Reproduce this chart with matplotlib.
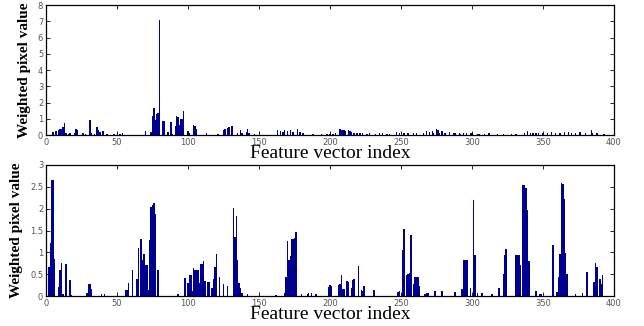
import matplotlib
matplotlib.use("Agg")
import matplotlib.pyplot as plt
import numpy as np

# ---- Top panel data (feature index -> weighted pixel value) ----
top_idx = [5, 7, 9, 10, 11, 12, 13, 14, 16, 17, 20, 21, 22, 26, 28, 31, 32, 34, 36, 37, 38, 40,
           43, 48, 52, 54, 70, 74, 75, 76, 77, 78, 79, 80, 82, 83, 86, 88, 89, 91, 92, 93, 94,
           95, 96, 97, 100, 101, 104, 105, 106, 113, 121, 125, 126, 128, 129, 131, 135, 137,
           138, 141, 142, 143, 147, 163, 165, 167, 168, 170, 172, 174, 177, 179, 181, 188, 194,
           198, 200, 202, 204, 207, 208, 209, 210, 211, 213, 214, 215, 217, 219, 221, 223, 226,
           228, 232, 235, 237, 240, 242, 247, 249, 252, 255, 259, 261, 266, 268, 270, 272, 273,
           275, 276, 277, 279, 281, 284, 287, 288, 291, 292, 294, 296, 299, 300, 304, 305, 309,
           312, 318, 322, 328, 331, 337, 339, 341, 343, 345, 347, 350, 353, 356, 359, 362, 365,
           368, 370, 373, 376, 380, 384, 385, 388, 393]
top_val = [0.19, 0.25, 0.33, 0.39, 0.39, 0.5, 0.72, 0.14, 0.08, 0.12, 0.14, 0.35, 0.29, 0.1, 0.06,
           0.9, 0.14, 0.06, 0.51, 0.3, 0.18, 0.22, 0.06, 0.05, 0.08, 0.14, 0.22, 0.18, 1.2, 1.66,
           0.9, 1.3, 1.38, 7.1, 0.84, 0.86, 0.18, 0.8, 0.08, 0.55, 1.15, 1.13, 0.6, 1.0, 0.97,
           1.46, 0.22, 0.12, 0.6, 0.55, 0.35, 0.14, 0.08, 0.3, 0.39, 0.43, 0.5, 0.53, 0.14, 0.33,
           0.1, 0.18, 0.35, 0.12, 0.05, 0.3, 0.25, 0.18, 0.33, 0.22, 0.33, 0.18, 0.35, 0.18, 0.1,
           0.06, 0.08, 0.05, 0.06, 0.06, 0.1, 0.35, 0.3, 0.29, 0.3, 0.25, 0.3, 0.22, 0.18, 0.14,
           0.1, 0.14, 0.1, 0.08, 0.1, 0.06, 0.1, 0.1, 0.08, 0.08, 0.18, 0.1, 0.1, 0.14, 0.1, 0.14,
           0.14, 0.27, 0.18, 0.22, 0.14, 0.39, 0.3, 0.14, 0.27, 0.1, 0.18, 0.1, 0.1, 0.12, 0.08,
           0.12, 0.1, 0.1, 0.1, 0.08, 0.08, 0.08, 0.1, 0.08, 0.06, 0.06, 0.06, 0.12, 0.22, 0.14,
           0.12, 0.14, 0.14, 0.12, 0.14, 0.18, 0.14, 0.14, 0.18, 0.18, 0.12, 0.14, 0.18, 0.14,
           0.3, 0.14, 0.1, 0.06]

# ---- Bottom panel data ----
bot_idx = [2, 3, 4, 5, 6, 9, 10, 11, 12, 14, 17, 18, 29, 30, 31, 32, 39, 41, 56, 57, 58, 61, 64,
           65, 67, 68, 69, 70, 71, 72, 73, 74, 75, 76, 77, 79, 93, 98, 100, 101, 102, 103, 104,
           105, 106, 107, 108, 109, 110, 111, 112, 114, 115, 117, 118, 119, 120, 122, 125, 128,
           132, 133, 134, 135, 136, 137, 138, 142, 162, 168, 169, 170, 171, 172, 173, 174, 175,
           176, 180, 184, 185, 187, 190, 199, 200, 201, 206, 207, 208, 209, 210, 212, 213, 215,
           216, 217, 220, 222, 223, 224, 231, 248, 249, 251, 252, 254, 255, 256, 257, 259, 260,
           261, 262, 263, 267, 268, 269, 274, 279, 288, 293, 294, 295, 296, 297, 299, 301, 302,
           304, 307, 314, 319, 322, 323, 324, 331, 332, 333, 334, 336, 337, 338, 339, 340, 345,
           348, 349, 357, 360, 361, 362, 363, 364, 365, 366, 367, 373, 378, 381, 386, 387, 388,
           390, 391, 392]
bot_val = [0.66, 1.22, 2.65, 2.65, 0.84, 0.2, 0.59, 0.76, 0.05, 0.73, 0.36, 0.03, 0.08, 0.28, 0.28,
           0.17, 0.05, 0.05, 0.13, 0.13, 0.3, 0.59, 0.4, 1.09, 1.31, 0.83, 0.96, 0.7, 0.7, 0.13,
           1.29, 2.04, 2.08, 2.12, 1.87, 0.6, 0.05, 0.42, 0.3, 0.47, 0.47, 0.11, 0.63, 0.59, 0.59,
           0.59, 0.3, 0.73, 0.73, 0.8, 0.34, 0.31, 0.31, 0.19, 0.4, 0.67, 0.96, 0.44, 0.27, 0.24,
           2.02, 1.35, 1.83, 0.82, 0.3, 0.19, 0.07, 0.04, 0.03, 0.07, 0.44, 1.25, 0.83, 0.91, 1.3,
           1.31, 1.33, 1.47, 0.04, 0.05, 0.07, 0.08, 0.05, 0.2, 0.26, 0.24, 0.26, 0.27, 0.47, 0.17,
           0.17, 0.34, 0.32, 0.19, 0.37, 0.4, 0.68, 0.13, 0.11, 0.24, 0.13, 0.1, 0.11, 1.05, 1.53,
           0.47, 0.5, 0.53, 1.39, 0.28, 0.44, 0.44, 0.44, 0.24, 0.05, 0.07, 0.08, 0.11, 0.11, 0.09,
           0.17, 0.83, 0.83, 0.83, 0.83, 0.19, 2.19, 0.93, 0.07, 0.07, 0.05, 0.19, 0.5, 0.93, 1.07,
           0.95, 0.95, 0.95, 0.7, 2.54, 2.54, 2.48, 1.96, 0.8, 0.11, 0.05, 0.05, 1.16, 0.09, 0.44,
           0.97, 2.58, 2.56, 2.23, 0.99, 0.5, 0.05, 0.07, 0.54, 0.31, 0.76, 0.67, 0.38, 0.27, 0.47]

top_yticks = [0, 1, 2, 3, 4, 5, 6, 7, 8]
bot_yticks = [0, 0.5, 1, 1.5, 2, 2.5, 3]
bot_yticklabels = ["0", "0.5", "1", "1.5", "2", "2.5", "3"]
xticks = [0, 50, 100, 150, 200, 250, 300, 350, 400]
xlabel = "Feature vector index"
ylabel = "Weighted pixel value"

bar_color = "#000090"

fig = plt.figure(figsize=(6.44, 3.26), dpi=100)
ax1 = fig.add_axes([46/644, 1-135/326, (614-46)/644, 130/326])
ax2 = fig.add_axes([46/644, 1-296/326, (614-46)/644, 131/326])

def style(ax, yticks, ylim, ylabels=None):
    ax.set_xlim(0, 400)
    ax.set_ylim(*ylim)
    ax.set_xticks(xticks)
    ax.set_yticks(yticks)
    if ylabels is not None:
        ax.set_yticklabels(ylabels)
    ax.tick_params(direction="in", top=True, right=True, length=3, width=0.6,
                   labelsize=6, labelcolor="#555555", pad=2)
    for s in ax.spines.values():
        s.set_linewidth(0.9)
    ax.set_xlabel(xlabel, fontfamily="Liberation Serif", fontsize=14, labelpad=-1)
    ax.set_ylabel(ylabel, fontfamily="Liberation Serif", fontweight="bold", fontsize=11,
                  labelpad=5)

ax1.bar(top_idx, top_val, width=1.0, color=bar_color, linewidth=0)
style(ax1, top_yticks, (0, 8))
ax2.bar(bot_idx, bot_val, width=1.0, color=bar_color, linewidth=0)
style(ax2, bot_yticks, (0, 3), bot_yticklabels)

fig.savefig("out.png", dpi=100)
